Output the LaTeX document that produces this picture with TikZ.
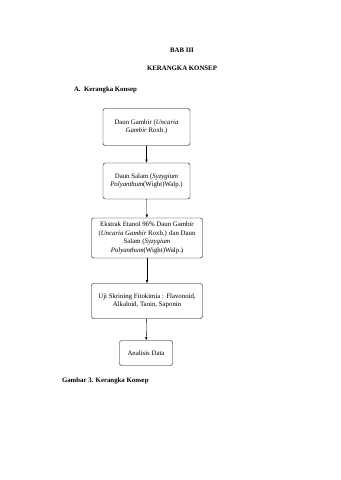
\documentclass[tikz,border=0pt]{standalone}
\usepackage{fontspec}
\setmainfont{Liberation Serif}
\usetikzlibrary{
  positioning,
  arrows.meta
}

\begin{document}
\begin{tikzpicture}[>=Latex, x=0.61875mm, y=-0.61875mm, font=\fontsize{12}{15}\selectfont]
  \tikzset{
    konsep/.style={
      draw, rounded corners=4pt, line width=0.7pt, align=center,
      inner sep=2pt
    },
    judul/.style={font=\fontsize{12}{14}\selectfont\bfseries},
  }
  \useasboundingbox (0,0) rectangle (340,480);

  \node[judul] (bab) at (182,50) {BAB III};
  \node[judul] (kerangka) at (182,68) {KERANGKA KONSEP};
  \node[judul, anchor=west] (subbab) at (72,90) {A.\enspace Kerangka Konsep};

  \node[konsep, minimum width=87*0.61875mm, minimum height=37*0.61875mm]
    (gambir) at (146.5,127)
    {Daun Gambir (\textit{Uncaria}\\ \textit{Gambir} Roxb.)};
  \node[konsep, minimum width=87*0.61875mm, minimum height=36*0.61875mm]
    (salam) at (146.5,181)
    {Daun Salam (\textit{Syzygium}\\ \textit{Polyanthum}(Wight)Walp.)};
  \node[konsep, minimum width=111*0.61875mm, minimum height=40*0.61875mm]
    (ekstrak) at (147,238)
    {Ekstrak Etanol 96\% Daun Gambir\\ (\textit{Uncaria Gambir} Roxb.) dan Daun\\ Salam (\textit{Syzygium}\\ \textit{Polyanthum}(Wight)Walp.)};
  \node[konsep, minimum width=111*0.61875mm, minimum height=35*0.61875mm]
    (skrining) at (147,301)
    {Uji Skrining Fitokimia : Flavonoid,\\ Alkaloid, Tanin, Saponin};
  \node[konsep, minimum width=53*0.61875mm, minimum height=25*0.61875mm]
    (analisis) at (146,353) {Analisis Data};

  \draw[->, line width=0.6pt] (gambir) -- (salam);
  \draw[->, line width=0.6pt] (salam) -- (ekstrak);
  \draw[->, line width=0.6pt] (ekstrak) -- (skrining);
  \draw[->, line width=0.6pt] (skrining) -- (analisis);

  \node[judul, anchor=west] (gambar) at (60,381) {Gambar 3. Kerangka Konsep};

\end{tikzpicture}
\end{document}
